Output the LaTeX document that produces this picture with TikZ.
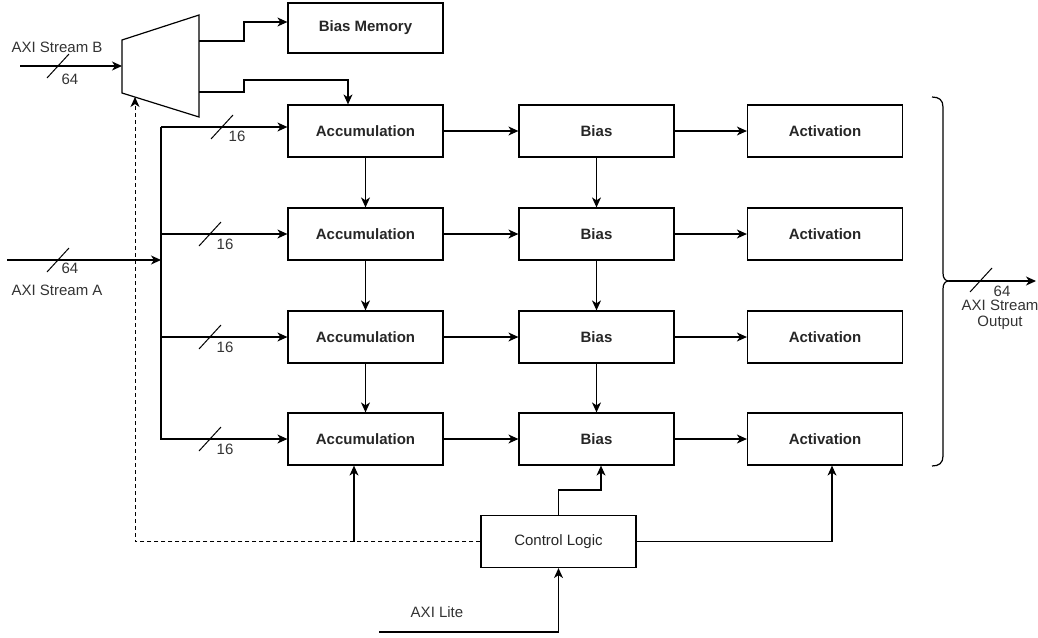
\documentclass[tikz,border=0pt]{standalone}
\usepackage{fontspec}
\setmainfont{Liberation Sans}
\usetikzlibrary{arrows.meta}
\begin{document}
\begin{tikzpicture}[x=1pt,y=-1pt,
  line width=1.2pt,
  >={Stealth[length=10pt,width=9pt,inset=3pt]},
  block/.style={draw, minimum width=155pt, minimum height=52pt, inner sep=0pt,
    font=\fontsize{15}{18}\selectfont\bfseries, text=black!85},
  lbl/.style={inner sep=0pt, font=\fontsize{15}{18}\selectfont, text=black!80},
  ctrlline/.style={line width=1pt, dash pattern=on 4pt off 3pt},
  pics/busmark/.style={code={\draw[line width=1pt] (-11,12) -- (11,-12);}},
  ]
\useasboundingbox (0,0) rectangle (1038,637);

% ---- blocks ----
\node[block, minimum height=50pt] (bmem) at (365.5,28) {Bias Memory};
\foreach \i/\y in {1/131,2/234,3/337,4/439}{
  \node[block] (acc\i)  at (365.5,\y) {Accumulation};
  \node[block] (bias\i) at (596.5,\y) {Bias};
  \node[block] (act\i)  at (825,\y)   {Activation};
}
\node[block, font=\fontsize{15}{18}\selectfont] (ctrl) at (558.5,541.5) {Control Logic};

% ---- demultiplexer for stream B ----
\draw (122,40) -- (199,15) -- (199,117) -- (122,93) -- cycle;
\coordinate (muxIn)   at (122,66);
\coordinate (muxOutA) at (199,41);
\coordinate (muxOutB) at (199,92);
\coordinate (muxSel)  at (135,97);

% ---- stream B input ----
\coordinate (inB) at (20,66);
\draw[->] (inB) -- (muxIn);
\pic at (58,66) {busmark};
\node[lbl] (tB)  at (57,47) {AXI Stream B};
\node[lbl] (wB)  at (70,79) {64};

% ---- demux outputs ----
\draw[->] (muxOutA) -- (244,41) -- (244,22) -- (bmem.west |- 244,22);
\draw[->] (muxOutB) -- (244,92) -- (244,80) -- (348,80) -- (acc1.north -| 348,80);

% ---- stream A input and distribution bus ----
\coordinate (inA)    at (7,260);
\coordinate (busTop) at (161,127);
\coordinate (busBot) at (161,439);
\draw[->] (inA) -- (inA -| busTop);
\pic at (58,260) {busmark};
\node[lbl] (wA) at (70,268) {64};
\node[lbl] (tA) at (57,290) {AXI Stream A};

\draw[->] (busTop) -- (busBot) -- (acc4.west);
\draw[->] (busTop) -- (busTop -| acc1.west);
\draw[->] (acc2.west -| busTop) -- (acc2.west);
\draw[->] (acc3.west -| busTop) -- (acc3.west);

\pic at (222,127) {busmark};
\node[lbl] (w1) at (237,136) {16};
\foreach \i/\y in {2/234,3/337,4/439}{
  \pic at (210,\y) {busmark};
  \node[lbl] (w\i) at (225,\y+10) {16};
}

% ---- pipeline connections ----
\foreach \i in {1,2,3,4}{
  \draw[->] (acc\i) -- (bias\i);
  \draw[->] (bias\i) -- (act\i);
}
\foreach \i/\j in {1/2,2/3,3/4}{
  \draw[->] (acc\i) -- (acc\j);
  \draw[->] (bias\i) -- (bias\j);
}

% ---- control logic ----
\coordinate (selTurn) at (135,541.5);
\draw[ctrlline,->] (ctrl.west) -- (selTurn) -- (muxSel);
\coordinate (accTap) at (354,541.5);
\draw[->] (accTap) -- (acc4.south -| accTap);
\draw[->] (ctrl.north) -- (558.5,490) -- (601,490) -- (bias4.south -| 601,490);
\draw[->] (ctrl.east) -- (832,541.5) -- (act4.south -| 832,541.5);

\coordinate (lite) at (379,632);
\draw[->] (lite) -- (ctrl.south |- lite) -- (ctrl.south);
\node[lbl] (tLite) at (437,612) {AXI Lite};

% ---- output brace ----
\coordinate (braceTip) at (949,281);
\draw (932,97) .. controls (939,97) and (943,100) .. (943,107) -- (943,273)
      .. controls (943,278) and (945,281) .. (braceTip);
\draw (braceTip) .. controls (945,281) and (943,284) .. (943,289) -- (943,456)
      .. controls (943,463) and (939,466) .. (932,466);
\coordinate (outEnd) at (1036,281);
\draw[->] (braceTip) -- (outEnd);
\pic at (981,280) {busmark};
\node[lbl] (wOut) at (1002,291) {64};
\node[lbl, align=center, font=\fontsize{15}{16}\selectfont] (tOut) at (1000,315) {AXI Stream\\Output};
\end{tikzpicture}
\end{document}
